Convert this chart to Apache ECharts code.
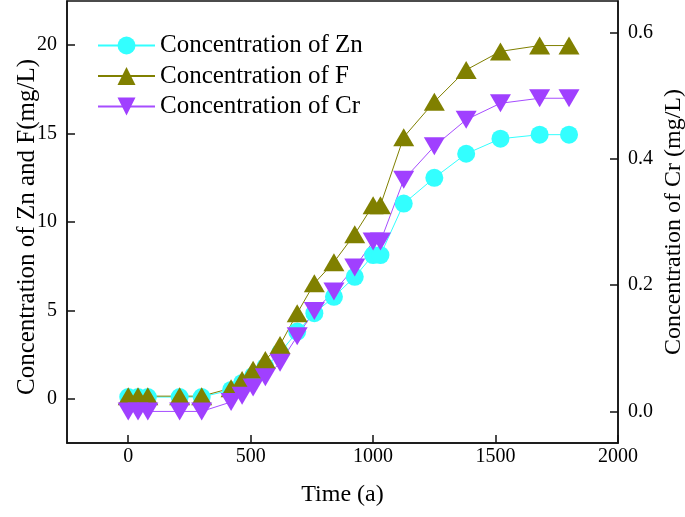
<!DOCTYPE html>
<html>
<head>
<meta charset="utf-8">
<script src="https://cdn.jsdelivr.net/npm/echarts@6/dist/echarts.min.js"></script>
<style>
html,body{margin:0;padding:0;background:#fff;}
#chart{width:685px;height:517px;}
</style>
</head>
<body>
<div id="chart"></div>
<script>
// Data
const time = [0, 40, 80, 210, 300, 420, 465, 510, 560, 620, 690, 760, 840, 925, 1000, 1030, 1125, 1250, 1380, 1520, 1680, 1800];
const zn = [0.1, 0.1, 0.1, 0.1, 0.1, 0.5, 0.9, 1.3, 1.8, 2.6, 3.8, 4.84, 5.77, 6.9, 8.13, 8.13, 11.04, 12.5, 13.86, 14.71, 14.94, 14.94];
const fl = [0.15, 0.15, 0.15, 0.15, 0.15, 0.6, 1.07, 1.64, 2.2, 3.05, 4.84, 6.53, 7.73, 9.31, 10.95, 10.95, 14.8, 16.8, 18.6, 19.65, 19.98, 19.98];
const cr = [0, 0, 0, 0, 0, 0.015, 0.025, 0.038, 0.054, 0.077, 0.119, 0.159, 0.19, 0.228, 0.269, 0.269, 0.367, 0.42, 0.462, 0.488, 0.496, 0.496];

// Tick labels
const xTicks = [0, 500, 1000, 1500, 2000];
const leftTicks = [0, 5, 10, 15, 20];
const rightTicks = [0, 0.2, 0.4, 0.6];

const seriesNames = ['Concentration of Zn', 'Concentration of F', 'Concentration of Cr'];
const xName = 'Time (a)';
const leftName = 'Concentration of Zn and F(mg/L)';
const rightName = 'Concentration of Cr (mg/L)';

// Axis ranges
const xRange = [-250, 2000];
const leftRange = [-2.5, 22.5];
const rightRange = [-0.05, 0.65];

const FONT = '"Liberation Serif", "Times New Roman", serif';
const pair = (xs, ys) => xs.map((x, i) => [x, ys[i]]);
const first = a => a[0];
const last = a => a[a.length - 1];
const step = a => a[1] - a[0];

const W = 685, H = 517;
const G = {left: 67, right: 67, top: 1, bottom: 74};
const plotW = W - G.left - G.right, plotH = H - G.top - G.bottom;
const px = t => G.left + (t - xRange[0]) / (xRange[1] - xRange[0]) * plotW;
const pyL = v => G.top + (leftRange[1] - v) / (leftRange[1] - leftRange[0]) * plotH;
const pyR = v => G.top + (rightRange[1] - v) / (rightRange[1] - rightRange[0]) * plotH;

const lineStyle = {color: '#111', width: 1.5};
const tickStyle = {show: true, inside: true, length: 8, lineStyle: lineStyle};
const labelStyle = {fontFamily: FONT, fontSize: 20, color: '#000'};
const nameStyle = {fontFamily: FONT, fontSize: 24, color: '#000'};
const hidden = {show: false};
const helperLine = {show: false, onZero: false};

const chart = echarts.init(document.getElementById('chart'), null, {renderer: 'canvas'});
chart.setOption({
  animation: false,
  backgroundColor: '#fff',
  grid: [
    // main plotting grid
    Object.assign({containLabel: false, outerBoundsMode: 'none', show: true, borderColor: '#111', borderWidth: 1.5}, G),
    // tick helper: x
    {containLabel: false, outerBoundsMode: 'none', left: px(first(xTicks)), right: W - px(last(xTicks)), top: G.top, bottom: G.bottom},
    // tick helper: left y
    {containLabel: false, outerBoundsMode: 'none', left: G.left, right: G.right, top: pyL(last(leftTicks)), bottom: H - pyL(first(leftTicks))},
    // tick helper: right y
    {containLabel: false, outerBoundsMode: 'none', left: G.left, right: G.right, top: pyR(last(rightTicks)), bottom: H - pyR(first(rightTicks))}
  ],
  legend: {
    orient: 'vertical', left: 92, top: 28,
    itemWidth: 57, itemHeight: 22.5, itemGap: 5.5,
    textStyle: {fontFamily: FONT, fontSize: 25, color: '#000'},
    data: seriesNames
  },
  xAxis: [
    {
      gridIndex: 0, type: 'value', min: xRange[0], max: xRange[1],
      axisLine: {show: true, onZero: false, lineStyle: lineStyle},
      axisTick: hidden, axisLabel: hidden, splitLine: hidden,
      name: xName, nameLocation: 'middle', nameGap: 40, nameMoveOverlap: false, nameTextStyle: nameStyle
    },
    {
      gridIndex: 1, type: 'value', position: 'bottom', min: first(xTicks), max: last(xTicks), interval: step(xTicks),
      axisLine: helperLine, splitLine: hidden, axisTick: tickStyle,
      axisLabel: Object.assign({margin: 4, formatter: v => String(v)}, labelStyle)
    },
    {gridIndex: 2, type: 'value', show: false, min: 0, max: 1},
    {gridIndex: 3, type: 'value', show: false, min: 0, max: 1}
  ],
  yAxis: [
    {
      gridIndex: 0, type: 'value', min: leftRange[0], max: leftRange[1], position: 'left',
      axisLine: {show: true, onZero: false, lineStyle: lineStyle},
      axisTick: hidden, axisLabel: hidden, splitLine: hidden,
      name: leftName, nameLocation: 'middle', nameGap: 27, nameRotate: 90, nameMoveOverlap: false,
      nameTextStyle: Object.assign({}, nameStyle, {fontSize: 25, padding: [0, 10, 0, 0]})
    },
    {
      gridIndex: 0, type: 'value', min: rightRange[0], max: rightRange[1], position: 'right',
      axisLine: {show: true, onZero: false, lineStyle: lineStyle},
      axisTick: hidden, axisLabel: hidden, splitLine: hidden,
      name: rightName, nameLocation: 'middle', nameGap: 44, nameRotate: 90, nameMoveOverlap: false,
      nameTextStyle: nameStyle
    },
    {gridIndex: 1, type: 'value', show: false, min: 0, max: 1},
    {
      gridIndex: 2, type: 'value', min: first(leftTicks), max: last(leftTicks), interval: step(leftTicks), position: 'left',
      axisLine: helperLine, splitLine: hidden, axisTick: tickStyle,
      axisLabel: Object.assign({margin: 10, formatter: v => String(v)}, labelStyle)
    },
    {
      gridIndex: 3, type: 'value', min: first(rightTicks), max: last(rightTicks), interval: step(rightTicks), position: 'right',
      axisLine: helperLine, splitLine: hidden, axisTick: tickStyle,
      axisLabel: Object.assign({margin: 10, formatter: v => Number(v).toFixed(1)}, labelStyle)
    }
  ],
  series: [
    {
      name: seriesNames[0], type: 'line', xAxisIndex: 0, yAxisIndex: 0, data: pair(time, zn),
      symbol: 'circle', symbolSize: 18,
      itemStyle: {color: '#33ffff'}, lineStyle: {color: '#33ffff', width: 1}
    },
    {
      name: seriesNames[1], type: 'line', xAxisIndex: 0, yAxisIndex: 0, data: pair(time, fl),
      symbol: 'triangle', symbolSize: [21, 18],
      itemStyle: {color: '#808000'}, lineStyle: {color: '#808000', width: 1}
    },
    {
      name: seriesNames[2], type: 'line', xAxisIndex: 0, yAxisIndex: 1, data: pair(time, cr),
      symbol: 'triangle', symbolRotate: 180, symbolSize: [21, 18],
      itemStyle: {color: '#a040ff'}, lineStyle: {color: '#a64dff', width: 1}
    }
  ]
});
</script>
</body>
</html>
